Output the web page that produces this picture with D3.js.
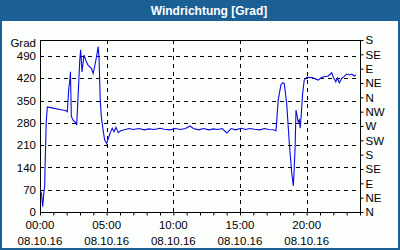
<!DOCTYPE html>
<html>
<head>
<meta charset="utf-8">
<script src="https://cdn.jsdelivr.net/npm/d3@7"></script>
<style>
  body { margin: 0; background: #ffffff; }
  svg { display: block; }
  text { font-family: "Liberation Sans", Arial, sans-serif; font-size: 11.5px; fill: #000; }
</style>
</head>
<body>
<script>
const width = 400;
const height = 250;
const margin = { top: 40, right: 40, bottom: 38, left: 40 };

// minutes after 00:00 on 08.10.16
const minutes = [
  3, 7, 12, 18, 21, 24, 28, 33, 54, 90, 117, 123, 129, 135, 137, 141, 149, 161, 165,
  171, 179, 183, 189, 198, 207, 216, 231, 239, 249, 258, 262, 266, 271, 276, 284, 291,
  300, 315, 325, 333, 342, 352, 363, 380, 400, 420, 445, 470, 490, 515, 540, 560, 585,
  610, 630, 655, 675, 690, 715, 735, 760, 780, 800, 820, 841, 860, 880, 905, 925, 945,
  965, 990, 1010, 1030, 1050, 1062, 1065, 1072, 1084, 1092, 1099, 1110, 1117, 1122,
  1128, 1133, 1137, 1140, 1143, 1148, 1152, 1158, 1162, 1167, 1171, 1176, 1182, 1189,
  1200, 1224, 1252, 1268, 1297, 1313, 1320, 1331, 1338, 1347, 1358, 1368, 1380, 1392,
  1403, 1414, 1422
];
const grad = [
  64, 58, 17, 65, 80, 174, 283, 330, 327, 322, 318, 315, 383, 420, 440, 300, 288, 280, 273,
  358, 477, 509, 440, 493, 475, 461, 451, 435, 467, 503, 519, 477, 352, 299, 257, 226,
  215, 247, 263, 252, 266, 249, 255, 258, 262, 259, 262, 258, 261, 259, 263, 260, 258,
  262, 259, 262, 270, 262, 258, 262, 258, 261, 259, 262, 248, 262, 258, 263, 259, 262,
  260, 258, 262, 259, 258, 255, 283, 352, 399, 406, 404, 341, 268, 216,
  163, 121, 100, 82, 121, 205, 320, 299, 283, 289, 263, 310, 373, 414,
  423, 422, 414, 423, 427, 437, 423, 409, 420, 406, 420, 425, 433, 430,
  433, 427, 430
];

const leftTicks = [0, 70, 140, 210, 280, 350, 420, 490];
const dirTicks = [0, 45, 90, 135, 180, 225, 270, 315, 360, 405, 450, 495, 540];
const dirLabels = ['N', 'NE', 'E', 'SE', 'S', 'SW', 'W', 'NW', 'N', 'NE', 'E', 'SE', 'S'];
const timeTicks = [0, 300, 600, 900, 1200];
const timeLabels = ['00:00', '05:00', '10:00', '15:00', '20:00'];
const dateLabel = '08.10.16';

const svg = d3.select('body')
  .append('svg')
  .attr('width', width)
  .attr('height', height);

// frame and title bar
svg.append('rect')
  .attr('x', 0).attr('y', 0)
  .attr('width', width).attr('height', height)
  .attr('fill', '#1b6094');
svg.append('rect')
  .attr('x', 2).attr('y', 21)
  .attr('width', width - 4).attr('height', height - 23)
  .attr('fill', '#fcfefc');
svg.append('text')
  .attr('x', 209)
  .attr('y', 14.5)
  .attr('text-anchor', 'middle')
  .style('font-weight', 'bold')
  .style('font-size', '12px')
  .style('fill', '#fff')
  .text('Windrichtung [Grad]');

const xScale = d3.scaleLinear()
  .domain([0, 1440])
  .range([margin.left, width - margin.right]);

const yScale = d3.scaleLinear()
  .domain([0, 540])
  .range([height - margin.bottom, margin.top]);

// grid
svg.append('g')
  .selectAll('line')
  .data(leftTicks.slice(1))
  .enter()
  .append('line')
  .attr('x1', margin.left)
  .attr('x2', width - margin.right)
  .attr('y1', d => Math.round(yScale(d)) + 0.5)
  .attr('y2', d => Math.round(yScale(d)) + 0.5)
  .attr('stroke', '#000')
  .attr('stroke-dasharray', '4,4');

svg.append('g')
  .selectAll('line')
  .data(timeTicks.slice(1))
  .enter()
  .append('line')
  .attr('x1', d => Math.round(xScale(d)) + 0.5)
  .attr('x2', d => Math.round(xScale(d)) + 0.5)
  .attr('y1', margin.top)
  .attr('y2', height - margin.bottom)
  .attr('stroke', '#000')
  .attr('stroke-dasharray', '4,4');

// plot border
svg.append('rect')
  .attr('x', margin.left + 0.5)
  .attr('y', margin.top + 0.5)
  .attr('width', width - margin.left - margin.right)
  .attr('height', height - margin.top - margin.bottom)
  .attr('fill', 'none')
  .attr('stroke', '#000');

// left axis
const yAxis = d3.axisLeft(yScale)
  .tickValues(leftTicks)
  .tickSize(0)
  .tickPadding(4);
const gLeft = svg.append('g')
  .attr('transform', `translate(${margin.left}, 0)`)
  .call(yAxis);
gLeft.select('.domain').remove();
gLeft.selectAll('text').attr('font-family', null).attr('font-size', null).attr('fill', null);
svg.append('text')
  .attr('x', 36)
  .attr('y', 47)
  .attr('text-anchor', 'end')
  .text('Grad');

// right axis with compass directions
const dirAxis = d3.axisRight(yScale)
  .tickValues(dirTicks)
  .tickSize(3)
  .tickPadding(2)
  .tickFormat((d, i) => dirLabels[i]);
const gRight = svg.append('g')
  .attr('transform', `translate(${width - margin.right + 0.5}, 0)`)
  .call(dirAxis);
gRight.select('.domain').remove();
gRight.selectAll('text').attr('font-family', null).attr('font-size', null).attr('fill', null);

// bottom axis, hourly ticks
const xAxis = d3.axisBottom(xScale)
  .tickValues(d3.range(0, 1441, 60))
  .tickSize(3)
  .tickFormat('');
const gBottom = svg.append('g')
  .attr('transform', `translate(0, ${height - margin.bottom + 0.5})`)
  .call(xAxis);
gBottom.select('.domain').remove();

const labels = svg.append('g')
  .selectAll('text')
  .data(timeTicks)
  .enter();
labels.append('text')
  .attr('x', d => xScale(d))
  .attr('y', 229)
  .attr('text-anchor', 'middle')
  .text((d, i) => timeLabels[i]);
labels.append('text')
  .attr('x', d => xScale(d))
  .attr('y', 245)
  .attr('text-anchor', 'middle')
  .text(dateLabel);

// data line
const line = d3.line()
  .x((d, i) => xScale(minutes[i]))
  .y(d => yScale(d));

svg.append('path')
  .datum(grad)
  .attr('d', line)
  .attr('fill', 'none')
  .attr('stroke', '#0a0ae6')
  .attr('stroke-width', 1.1);
</script>
</body>
</html>
